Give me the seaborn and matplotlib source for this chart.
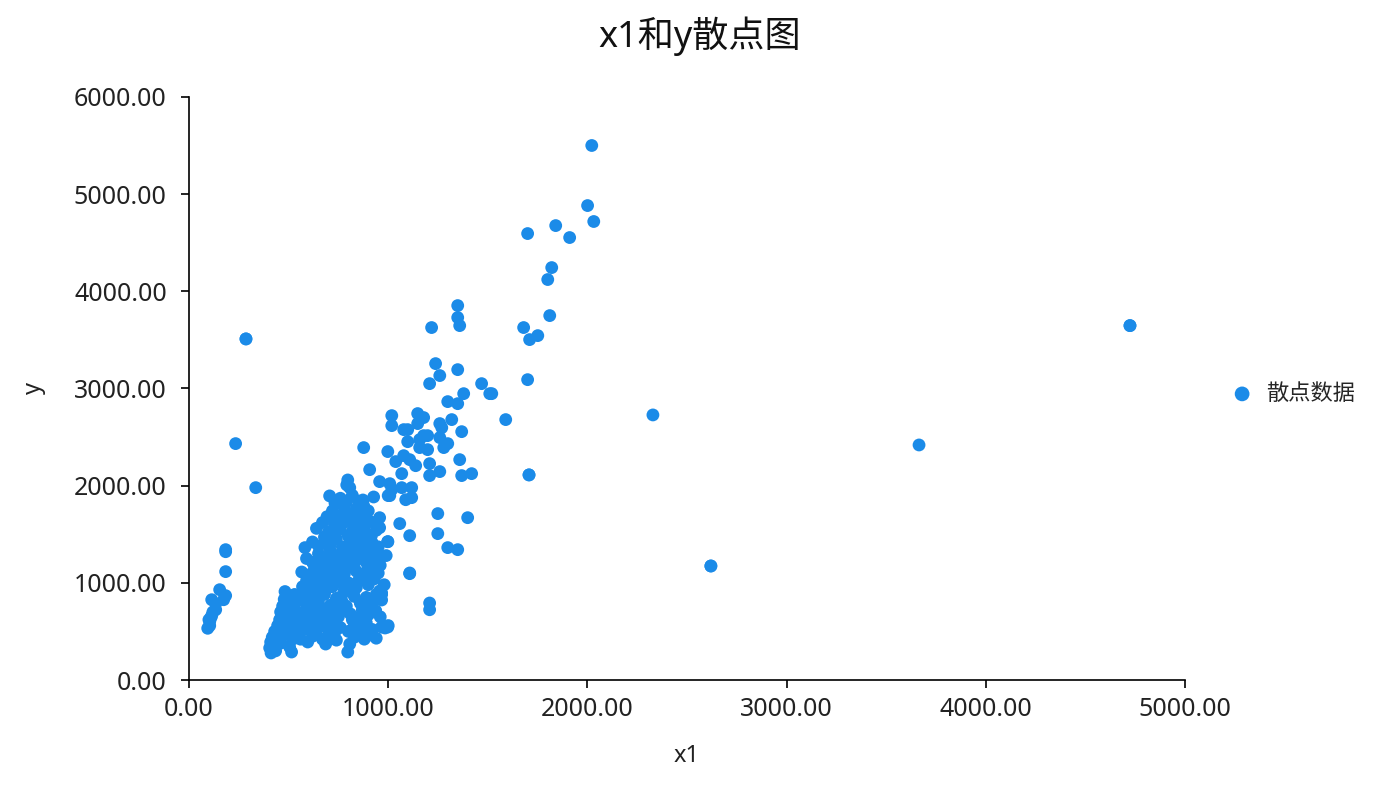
import numpy as np
import pandas as pd
import matplotlib
matplotlib.use('Agg')
import matplotlib.pyplot as plt
import seaborn as sns
from matplotlib.ticker import StrMethodFormatter

# 读图估计的数据点 (x1, y)
# 左下角的小簇
x_left = [184, 184, 184, 154, 184, 174, 114, 134, 134, 114, 104, 94, 104, 100, 120, 110]
y_left = [1341, 1320, 1115, 929, 868, 826, 826, 785, 723, 662, 600, 532, 559, 620, 700, 640]

# 孤立点
x_out = [286, 286, 234, 335, 1707, 1707, 2329, 2620, 2620, 3665, 4724, 4724, 1208, 1208]
y_out = [3509, 3509, 2432, 1979, 2110, 2110, 2727, 1173, 1173, 2418, 3646, 3646, 792, 723]

# 右上方的稀疏带
x_upper = [2022, 2001, 2032, 1841, 1911, 1700, 1821, 1801, 1811, 1680, 1751, 1710, 1700,
           1349, 1349, 1359, 1218, 1238, 1349, 1259, 1208, 1469, 1520, 1510, 1379, 1299,
           1349, 1590, 1018, 1018, 1148, 1178, 1148, 1259, 1269, 1319, 1369, 1078, 1098,
           1098, 1158, 1178, 1198, 1259, 1299, 1279, 1198, 1158, 877, 998, 1038, 1078,
           1108, 1138, 1208, 1359, 1259, 1208, 1369, 1419, 1068, 907, 957, 1008, 1018,
           1068, 1118, 1008, 1088, 1118, 1249, 1399, 1249, 1058, 1108, 1299, 1349, 998,
           1108, 1000]
y_upper = [5499, 4881, 4717, 4675, 4552, 4593, 4243, 4120, 3749, 3626, 3543, 3502, 3090,
           3852, 3729, 3646, 3626, 3255, 3193, 3132, 3049, 3049, 2946, 2946, 2946, 2864,
           2843, 2679, 2720, 2617, 2741, 2700, 2638, 2638, 2596, 2679, 2555, 2576, 2576,
           2452, 2473, 2514, 2514, 2494, 2432, 2391, 2370, 2391, 2391, 2350, 2247, 2308,
           2267, 2205, 2226, 2267, 2144, 2103, 2103, 2123, 2123, 2164, 2041, 2020, 1959,
           1979, 1979, 1897, 1855, 1876, 1712, 1670, 1506, 1609, 1485, 1362, 1341, 1423,
           1094, 1897]

# 左侧斜条
x_strip = [405, 412, 410, 418, 425, 430, 435, 440, 445, 450, 455, 460, 462, 468, 470,
           475, 478, 482, 488, 490, 495, 500, 505, 510, 515, 518, 520, 525, 530, 535]
y_strip = [330, 278, 390, 440, 360, 500, 300, 420, 560, 480, 620, 700, 380, 540, 760,
           660, 830, 910, 600, 470, 720, 860, 340, 540, 288, 780, 420, 650, 880, 500]

# 主体密集区
x_core = [560, 596, 620, 686, 700, 740, 797, 807, 830, 880, 907, 940,
          550, 580, 610, 640, 670, 700, 730, 760, 800, 830, 860, 890, 920, 967, 998, 1000,
          545, 570, 600, 630, 660, 690, 720, 750, 780, 810, 840, 870, 900, 937, 960,
          560, 590, 620, 650, 680, 710, 740, 770, 830, 860, 890, 920, 957, 967,
          570, 600, 630, 660, 690, 720, 750, 780, 800, 840, 870, 900, 930, 957,
          566, 600, 630, 660, 690, 720, 750, 780, 810, 840, 870, 900, 930, 960, 1108,
          590, 620, 650, 680, 710, 740, 770, 800, 830, 860, 890, 920, 950, 990,
          582, 620, 650, 680, 710, 740, 770, 800, 830, 860, 890, 920, 950, 998,
          640, 670, 700, 730, 760, 790, 820, 850, 880, 910, 940, 957,
          693, 720, 750, 780, 810, 840, 870, 900, 957,
          733, 760, 790, 820, 850, 873, 927, 877, 706, 767, 792, 797, 807,
          615, 645, 675, 705, 735, 765, 795, 825, 855, 885, 655, 685, 715, 745, 775,
          805, 835, 865, 895, 625, 655, 685, 715, 745, 775, 805, 835, 865, 700, 730,
          937, 967, 967, 984]
y_core = [420, 391, 450, 370, 440, 410, 288, 370, 440, 420, 463, 430,
          560, 520, 590, 500, 560, 520, 590, 540, 500, 570, 530, 590, 520, 545, 545, 560,
          700, 640, 720, 660, 740, 620, 690, 650, 720, 680, 640, 720, 670, 710, 650,
          820, 780, 860, 800, 880, 770, 840, 800, 860, 790, 850, 800, 834, 880,
          960, 920, 1000, 940, 1030, 960, 1010, 930, 1000, 950, 1030, 980, 1040, 916,
          1111, 1080, 1150, 1100, 1180, 1070, 1140, 1090, 1170, 1120, 1060, 1150, 1100, 1180, 1101,
          1250, 1210, 1300, 1240, 1330, 1220, 1290, 1230, 1320, 1260, 1210, 1300, 1240, 1280,
          1362, 1420, 1380, 1470, 1400, 1450, 1370, 1480, 1420, 1390, 1460, 1410, 1370, 1423,
          1560, 1620, 1520, 1600, 1550, 1630, 1530, 1600, 1560, 1630, 1540, 1567,
          1680, 1740, 1690, 1770, 1700, 1760, 1680, 1740, 1670,
          1821, 1870, 1830, 1900, 1840, 1852, 1883, 1794, 1894, 1852, 2007, 2058, 1979,
          560, 620, 680, 740, 800, 860, 920, 980, 1040, 1100, 860, 920, 980, 1040, 1100,
          1160, 1220, 1280, 1340, 760, 1040, 1120, 1200, 1280, 1340, 1400, 1480, 1520, 1380, 1500,
          710, 895, 823, 535]

# 主体中补充的点
x_fill = [585, 615, 645, 675, 705, 735, 765, 795, 825, 855, 885, 915, 945, 590, 620,
          650, 680, 710, 740, 770, 800, 830, 860, 890, 920, 950, 980, 940, 910, 880,
          850, 820, 790, 760, 730, 700, 670, 640, 610, 580]
y_fill = [690, 850, 950, 1000, 1060, 1120, 1180, 1240, 1300, 1360, 1420, 1480, 1300, 1020, 1100,
          1180, 1260, 1440, 1560, 1620, 1700, 1640, 1700, 1500, 1200, 1100, 980, 880, 760, 640,
          480, 620, 760, 700, 480, 620, 420, 700, 650, 880]

x1 = x_left + x_out + x_upper + x_strip + x_core + x_fill
y = y_left + y_out + y_upper + y_strip + y_core + y_fill
df = pd.DataFrame({'x1': x1, 'y': y})

sns.set_style('white')
plt.rcParams['font.family'] = ['Noto Sans', 'Noto Sans CJK SC', 'DejaVu Sans']
plt.rcParams['axes.unicode_minus'] = False

fig = plt.figure(figsize=(14, 8), dpi=100)
ax = fig.add_axes([0.135, 0.15, 0.7114, 0.729])

sns.scatterplot(data=df, x='x1', y='y', ax=ax, color='#1b8be8', s=85,
                edgecolor='none', linewidth=0, label='散点数据')

ax.set_xlim(0, 5000)
ax.set_ylim(0, 6000)
ax.set_xticks([0, 1000, 2000, 3000, 4000, 5000])
ax.set_yticks([0, 1000, 2000, 3000, 4000, 5000, 6000])
ax.xaxis.set_major_formatter(StrMethodFormatter('{x:.2f}'))
ax.yaxis.set_major_formatter(StrMethodFormatter('{x:.2f}'))
ax.tick_params(axis='both', direction='out', length=6, width=1.2, labelsize=18,
               color='black', labelcolor='#222222', bottom=True, left=True)
ax.tick_params(axis='y', pad=10)
ax.tick_params(axis='x', pad=6)
for side in ['top', 'right']:
    ax.spines[side].set_visible(False)
for side in ['left', 'bottom']:
    ax.spines[side].set_color('black')
    ax.spines[side].set_linewidth(1.2)

ax.set_xlabel('x1', fontsize=17, labelpad=16, color='#222222')
ax.set_ylabel('y', fontsize=17, labelpad=20, color='#222222')
fig.suptitle('x1和y散点图', fontsize=26, y=0.98, color='#111111')

ax.legend(loc='center left', bbox_to_anchor=(1.015, 0.49), frameon=False,
          fontsize=16, handletextpad=0.1, markerscale=1.15)

fig.savefig('out.png', dpi=100)
